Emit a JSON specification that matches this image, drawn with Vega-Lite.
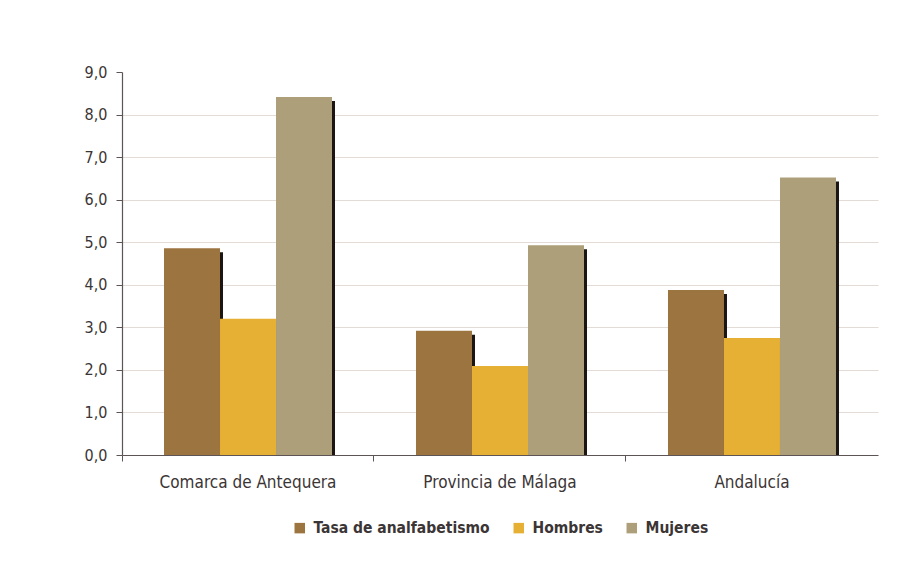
{
  "$schema": "https://vega.github.io/schema/vega-lite/v6.json",
  "width": 756,
  "height": 383,
  "autosize": {"type": "none"},
  "padding": {"left": 122, "top": 72, "right": 39, "bottom": 122},
  "background": "#ffffff",
  "config": {
    "view": {"stroke": null},
    "font": "Liberation Sans Narrow, DejaVu Sans Condensed, Roboto, sans-serif"
  },
  "data": {
    "values": [
      {"zona": "Comarca de Antequera", "serie": "Tasa de analfabetismo", "valor": 4.86},
      {"zona": "Comarca de Antequera", "serie": "Hombres", "valor": 3.2},
      {"zona": "Comarca de Antequera", "serie": "Mujeres", "valor": 8.41},
      {"zona": "Provincia de Málaga", "serie": "Tasa de analfabetismo", "valor": 2.92},
      {"zona": "Provincia de Málaga", "serie": "Hombres", "valor": 2.09},
      {"zona": "Provincia de Málaga", "serie": "Mujeres", "valor": 4.93},
      {"zona": "Andalucía", "serie": "Tasa de analfabetismo", "valor": 3.88},
      {"zona": "Andalucía", "serie": "Hombres", "valor": 2.75},
      {"zona": "Andalucía", "serie": "Mujeres", "valor": 6.52}
    ]
  },
  "encoding": {
    "x": {
      "field": "zona",
      "type": "nominal",
      "sort": ["Comarca de Antequera", "Provincia de Málaga", "Andalucía"],
      "scale": {"paddingInner": 0.3333, "paddingOuter": 0.1667},
      "axis": {
        "title": null,
        "labelAngle": 0,
        "labelFontSize": 17,
        "labelColor": "#3b3535",
        "labelPadding": 13,
        "tickSize": 6,
        "tickColor": "#5d5555",
        "domainColor": "#5d5555",
        "domainWidth": 1.2,
        "bandPosition": -0.25,
        "grid": false
      }
    },
    "y": {
      "field": "valor",
      "type": "quantitative",
      "scale": {"domain": [0, 9], "nice": false},
      "axis": {
        "title": null,
        "values": [0, 1, 2, 3, 4, 5, 6, 7, 8, 9],
        "labelExpr": "replace(format(datum.value, '.1f'), '.', ',')",
        "labelFontSize": 16,
        "labelColor": "#3b3535",
        "labelPadding": 9,
        "tickSize": 6,
        "tickColor": "#5d5555",
        "domainColor": "#5d5555",
        "domainWidth": 1.2,
        "grid": true,
        "gridColor": "#e3dcd6",
        "gridWidth": 1.2,
        "gridOpacity": {"condition": {"test": "datum.value == 9 || datum.value == 0", "value": 0}, "value": 1}
      }
    }
  },
  "resolve": {"scale": {"xOffset": "independent"}},
  "layer": [
    {
      "mark": {"type": "rule", "color": "#1b1612", "strokeWidth": 6, "yOffset": 4, "strokeCap": "butt"},
      "encoding": {
        "xOffset": {
          "field": "serie",
          "type": "nominal",
          "sort": ["Tasa de analfabetismo", "Hombres", "Mujeres"],
          "scale": {"paddingInner": 0, "paddingOuter": 0, "range": [28, 196]}
        },
        "y2": {"datum": 0}
      }
    },
    {
      "mark": {"type": "bar"},
      "encoding": {
        "xOffset": {
          "field": "serie",
          "type": "nominal",
          "sort": ["Tasa de analfabetismo", "Hombres", "Mujeres"],
          "scale": {"paddingInner": 0, "paddingOuter": 0}
        },
        "color": {
          "field": "serie",
          "type": "nominal",
          "sort": ["Tasa de analfabetismo", "Hombres", "Mujeres"],
          "scale": {
            "domain": ["Tasa de analfabetismo", "Hombres", "Mujeres"],
            "range": ["#9b7440", "#e6b034", "#ad9f79"]
          },
          "legend": {
            "title": null,
            "orient": "none",
            "direction": "horizontal",
            "legendX": 170,
            "legendY": 448,
            "symbolType": "square",
            "symbolSize": 110,
            "symbolStrokeWidth": 0,
            "labelFontSize": 15.5,
            "labelFontWeight": "bold",
            "labelColor": "#3b3535",
            "labelOffset": 6,
            "labelLimit": 0,
            "columnPadding": 21,
            "padding": 0
          }
        }
      }
    }
  ]
}
